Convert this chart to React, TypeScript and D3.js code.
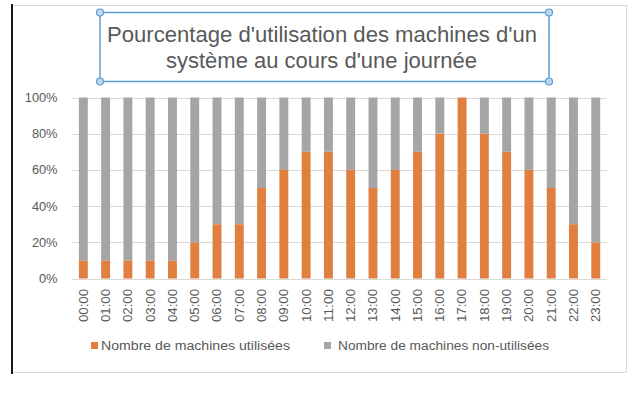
import React from "react";
import * as d3 from "d3";

const hours = ["00:00","01:00","02:00","03:00","04:00","05:00","06:00","07:00","08:00","09:00","10:00","11:00","12:00","13:00","14:00","15:00","16:00","17:00","18:00","19:00","20:00","21:00","22:00","23:00"];
const used = [1,1,1,1,1,2,3,3,5,6,7,7,6,5,6,7,8,10,8,7,6,5,3,2];
const unused = [9,9,9,9,9,8,7,7,5,4,3,3,4,5,4,3,2,0,2,3,4,5,7,8];
const yTicks = [0,0.2,0.4,0.6,0.8,1];
const seriesNames = ["Nombre de machines utilisées","Nombre de machines non-utilisées"];
const seriesColors = ["#E07F3E","#A5A5A5"];
const titleLines = ["Pourcentage d'utilisation des machines d'un","système au cours d'une journée"];

const FONT = "'Liberation Sans', 'Open Sans', sans-serif";
const TXT = "#595959";

export default function App() {
  const W = 644, H = 394;
  const x = d3.scaleBand<string>().domain(hours).range([72.2, 606.9]).paddingInner(0.6).paddingOuter(0.3);
  const y = d3.scaleLinear().domain([0, 1]).range([278.5, 97.5]);
  const rows = hours.map((h, i) => ({ hour: h, used: used[i], unused: unused[i] }));
  const stacked = d3.stack<any>().keys(["used", "unused"]).offset(d3.stackOffsetExpand)(rows);
  const fmt = d3.format(".0%");
  const box = { x0: 100, y0: 12.5, x1: 549, y1: 81.5 };
  return (
    <div style={{ position: "fixed", left: 0, top: 0, background: "#fff" }}>
      <svg width={W} height={H} style={{ display: "block" }}>
        <rect x={0} y={0} width={W} height={H} fill="#fff" />
        {/* frame */}
        <line x1={12} x2={626.5} y1={5.5} y2={5.5} stroke="#D9D9D9" strokeWidth={1} />
        <line x1={626.5} x2={626.5} y1={5.5} y2={372.5} stroke="#D9D9D9" strokeWidth={1} />
        <line x1={12} x2={626.5} y1={372.5} y2={372.5} stroke="#D9D9D9" strokeWidth={1} />
        <line x1={12} x2={12} y1={4} y2={374} stroke="#1a1a1a" strokeWidth={2} />
        {/* gridlines */}
        {yTicks.map((t) => (
          <line key={t} x1={72.2} x2={606.9} y1={Math.round(y(t)) + 0.5} y2={Math.round(y(t)) + 0.5} stroke="#D9D9D9" strokeWidth={1} />
        ))}
        {yTicks.map((t) => (
          <text key={"l" + t} x={57.5} y={y(t)} dy="0.35em" textAnchor="end" fontFamily={FONT} fontSize={12.8} fill={TXT}>{fmt(t)}</text>
        ))}
        {/* bars */}
        {stacked.map((s, si) => (
          <g key={si} fill={seriesColors[si]}>
            {s.map((d, i) => (
              <rect key={i} x={x(hours[i])} width={x.bandwidth()} y={y(d[1])} height={Math.max(0, y(d[0]) - y(d[1]))} />
            ))}
          </g>
        ))}
        {/* x labels */}
        {hours.map((h) => (
          <text key={h} transform={`translate(${(x(h) as number) + x.bandwidth() / 2},289) rotate(-90)`} dy="0.35em" textAnchor="end" fontFamily={FONT} fontSize={12.5} fill={TXT} textLength={33} lengthAdjust="spacingAndGlyphs">{h}</text>
        ))}
        {/* legend */}
        <rect x={91} y={342} width={7} height={7} fill={seriesColors[0]} />
        <text x={101} y={345.5} dy="0.35em" fontFamily={FONT} fontSize={12.5} fill={TXT} textLength={189} lengthAdjust="spacingAndGlyphs">{seriesNames[0]}</text>
        <rect x={324} y={342} width={7} height={7} fill={seriesColors[1]} />
        <text x={338} y={345.5} dy="0.35em" fontFamily={FONT} fontSize={12.5} fill={TXT} textLength={211} lengthAdjust="spacingAndGlyphs">{seriesNames[1]}</text>
        {/* title box */}
        <rect x={box.x0} y={box.y0} width={box.x1 - box.x0} height={box.y1 - box.y0} fill="none" stroke="#5B9BD5" strokeWidth={1.5} />
        {[[box.x0, box.y0], [box.x1, box.y0], [box.x0, box.y1], [box.x1, box.y1]].map(([cx, cy], i) => (
          <circle key={i} cx={cx} cy={cy} r={3.5} fill="#BDD7EE" stroke="#5B9BD5" strokeWidth={1.2} />
        ))}
        <text x={322} y={42} textAnchor="middle" fontFamily={FONT} fontSize={22} fill={TXT} textLength={430} lengthAdjust="spacingAndGlyphs">{titleLines[0]}</text>
        <text x={321.5} y={68} textAnchor="middle" fontFamily={FONT} fontSize={22} fill={TXT} textLength={311} lengthAdjust="spacingAndGlyphs">{titleLines[1]}</text>
      </svg>
    </div>
  );
}
